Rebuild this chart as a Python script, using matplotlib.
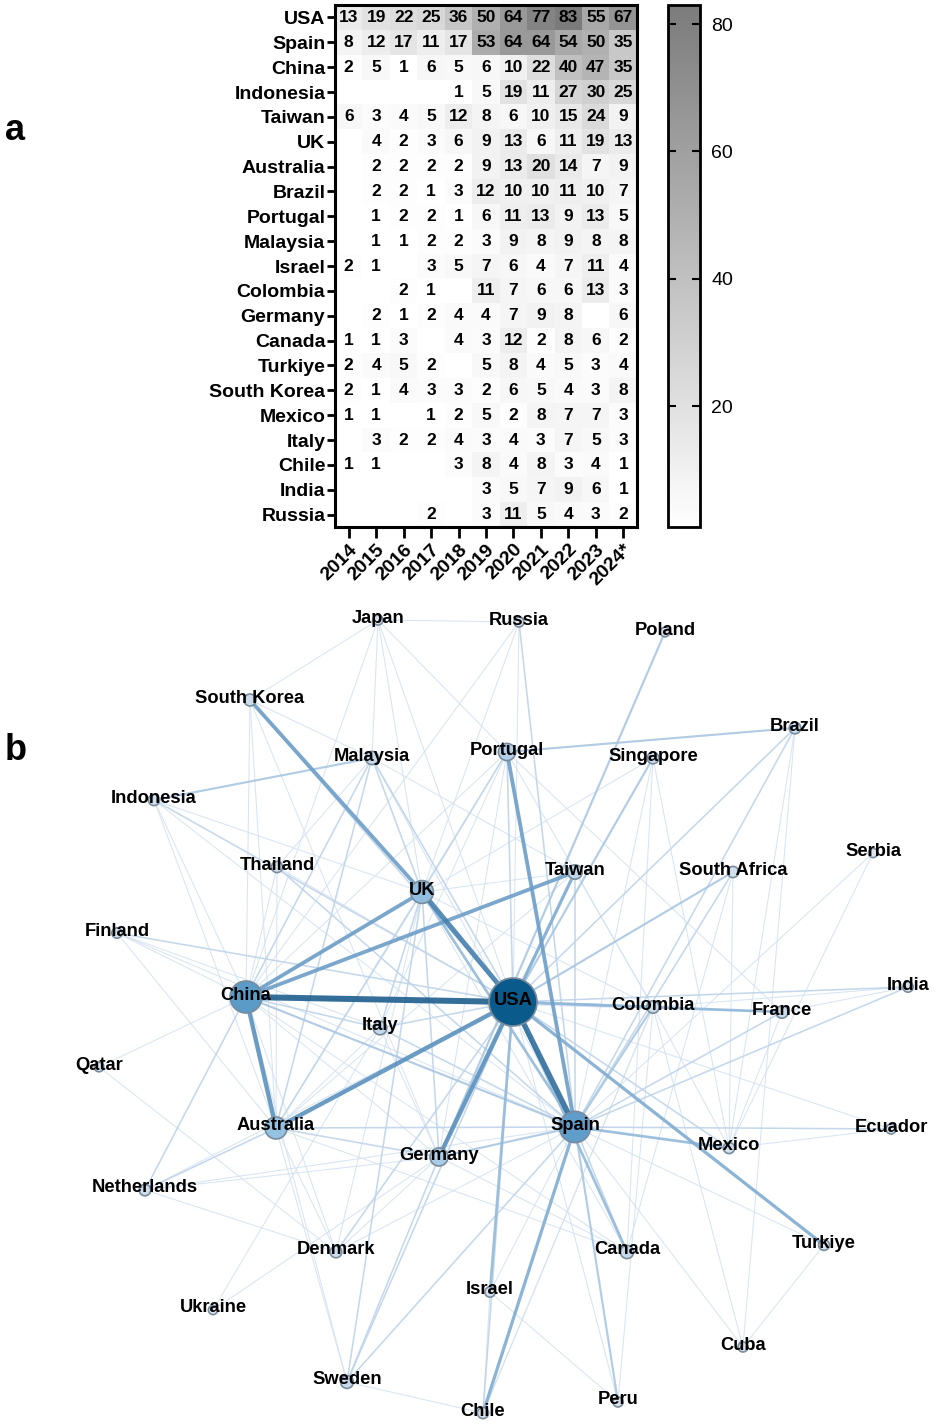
import numpy as np
import matplotlib.pyplot as plt
from matplotlib.colors import LinearSegmentedColormap

plt.rcParams['font.family'] = ['Liberation Sans', 'DejaVu Sans']

# ---- panel a: publications per country and year ----
countries = ["USA", "Spain", "China", "Indonesia", "Taiwan", "UK", "Australia",
             "Brazil", "Portugal", "Malaysia", "Israel", "Colombia", "Germany",
             "Canada", "Turkiye", "South Korea", "Mexico", "Italy", "Chile",
             "India", "Russia"]
years = ["2014", "2015", "2016", "2017", "2018", "2019", "2020", "2021",
         "2022", "2023", "2024*"]
N = None
counts = [
    [13, 19, 22, 25, 36, 50, 64, 77, 83, 55, 67],
    [8, 12, 17, 11, 17, 53, 64, 64, 54, 50, 35],
    [2, 5, 1, 6, 5, 6, 10, 22, 40, 47, 35],
    [N, N, N, N, 1, 5, 19, 11, 27, 30, 25],
    [6, 3, 4, 5, 12, 8, 6, 10, 15, 24, 9],
    [N, 4, 2, 3, 6, 9, 13, 6, 11, 19, 13],
    [N, 2, 2, 2, 2, 9, 13, 20, 14, 7, 9],
    [N, 2, 2, 1, 3, 12, 10, 10, 11, 10, 7],
    [N, 1, 2, 2, 1, 6, 11, 13, 9, 13, 5],
    [N, 1, 1, 2, 2, 3, 9, 8, 9, 8, 8],
    [2, 1, N, 3, 5, 7, 6, 4, 7, 11, 4],
    [N, N, 2, 1, N, 11, 7, 6, 6, 13, 3],
    [N, 2, 1, 2, 4, 4, 7, 9, 8, N, 6],
    [1, 1, 3, N, 4, 3, 12, 2, 8, 6, 2],
    [2, 4, 5, 2, N, 5, 8, 4, 5, 3, 4],
    [2, 1, 4, 3, 3, 2, 6, 5, 4, 3, 8],
    [1, 1, N, 1, 2, 5, 2, 8, 7, 7, 3],
    [N, 3, 2, 2, 4, 3, 4, 3, 7, 5, 3],
    [1, 1, N, N, 3, 8, 4, 8, 3, 4, 1],
    [N, N, N, N, N, 3, 5, 7, 9, 6, 1],
    [N, N, N, 2, N, 3, 11, 5, 4, 3, 2],
]
cbar_ticks = [20, 40, 60, 80]

# ---- panel b: collaboration network ----
nodes = ["USA", "China", "Spain", "UK", "Australia", "Germany", "Portugal",
         "Taiwan", "Italy", "Malaysia", "Canada", "Sweden", "Colombia",
         "France", "South Korea", "Brazil", "Denmark", "Singapore",
         "Netherlands", "Indonesia", "Thailand", "Finland", "Mexico",
         "South Africa", "Chile", "Israel", "Turkiye", "Japan", "Russia",
         "Poland", "Qatar", "Ukraine", "Serbia", "India", "Ecuador", "Cuba",
         "Peru"]
# layout coordinates (x, y) of each node
node_x = [513, 246, 575, 422, 276, 439, 507, 575, 380, 372, 627, 347, 653,
          782, 250, 795, 336, 653, 145, 154, 277, 117, 729, 733, 483, 490,
          824, 378, 519, 665, 99, 213, 873, 908, 891, 743, 618]
node_y = [1002, 997, 1127, 892, 1128, 1157, 752, 872, 1028, 758, 1252, 1382,
          1007, 1012, 700, 728, 1252, 758, 1190, 800, 867, 933, 1148, 872,
          1413, 1292, 1245, 620, 622, 632, 1067, 1310, 853, 987, 1129, 1347,
          1402]
strength = [100, 60, 58, 37, 35, 25, 23, 16, 14, 13, 13, 12, 11, 11, 10, 9,
            9, 9, 9, 8, 8, 6, 8, 8, 8, 6, 7, 5, 5, 4, 4, 3, 3, 6, 5, 5, 5]

edges = [
    ("USA", "China", 10), ("USA", "Spain", 9), ("USA", "UK", 8),
    ("China", "Australia", 7), ("USA", "Australia", 7), ("USA", "Germany", 7),
    ("China", "UK", 6), ("China", "Taiwan", 6), ("Portugal", "Spain", 6),
    ("South Korea", "UK", 6), ("USA", "Taiwan", 5), ("USA", "Turkiye", 5),
    ("Spain", "Chile", 5), ("UK", "Spain", 4), ("USA", "Colombia", 4),
    ("USA", "France", 4), ("Spain", "Mexico", 4), ("USA", "Canada", 4),
    ("USA", "Israel", 4), ("Spain", "Peru", 3), ("Spain", "Germany", 3),
    ("Portugal", "Brazil", 3), ("Indonesia", "Malaysia", 3),
    ("Poland", "Germany", 3), ("Singapore", "USA", 3),
    ("South Africa", "USA", 3), ("Colombia", "Spain", 3), ("China", "Spain", 3),
    ("France", "Spain", 2), ("Brazil", "USA", 2), ("Brazil", "Spain", 2),
    ("India", "USA", 2), ("India", "Spain", 2), ("Ecuador", "Spain", 2),
    ("Canada", "Spain", 2), ("Sweden", "USA", 2), ("Sweden", "Germany", 2),
    ("Sweden", "Spain", 2), ("Sweden", "UK", 2), ("Denmark", "USA", 2),
    ("Netherlands", "China", 2), ("Netherlands", "Australia", 2),
    ("Finland", "USA", 2), ("Italy", "USA", 2), ("Italy", "Spain", 2),
    ("Italy", "China", 2), ("Italy", "UK", 2), ("Russia", "Spain", 2),
    ("Malaysia", "China", 2), ("Malaysia", "Australia", 2),
    ("Malaysia", "UK", 2), ("Malaysia", "USA", 2), ("Indonesia", "USA", 2),
    ("Thailand", "Spain", 2), ("South Korea", "USA", 2),
    ("Taiwan", "Spain", 2), ("Portugal", "USA", 2), ("Portugal", "UK", 2),
    ("UK", "Australia", 2), ("UK", "Germany", 2), ("Germany", "Australia", 2),
    ("Mexico", "USA", 2), ("Chile", "USA", 2), ("France", "USA", 2),
    ("Australia", "Spain", 2), ("South Africa", "Spain", 2),
    ("Singapore", "Spain", 1), ("Singapore", "China", 1),
    ("Singapore", "Mexico", 1), ("Singapore", "Canada", 1),
    ("Serbia", "Spain", 1), ("Serbia", "Mexico", 1), ("Turkiye", "Cuba", 1),
    ("Turkiye", "Spain", 1), ("India", "France", 1), ("India", "Colombia", 1),
    ("Mexico", "Ecuador", 1), ("Cuba", "Spain", 1), ("Cuba", "Colombia", 1),
    ("Canada", "Germany", 1), ("Canada", "Australia", 1),
    ("Canada", "China", 1), ("Sweden", "China", 1), ("Sweden", "Australia", 1),
    ("Sweden", "Chile", 1), ("Denmark", "China", 1),
    ("Denmark", "Netherlands", 1), ("Qatar", "China", 1),
    ("Qatar", "Denmark", 1), ("Ukraine", "Germany", 1),
    ("Ukraine", "Italy", 1), ("Netherlands", "Spain", 1),
    ("Netherlands", "USA", 1), ("Netherlands", "Germany", 1),
    ("Finland", "Spain", 1), ("Finland", "China", 1),
    ("Finland", "Australia", 1), ("Finland", "Italy", 1),
    ("Italy", "Germany", 1), ("Italy", "Australia", 1), ("Japan", "USA", 1),
    ("Japan", "UK", 1), ("Japan", "Malaysia", 1), ("Japan", "South Korea", 1),
    ("Japan", "China", 1), ("Japan", "Russia", 1), ("Japan", "Portugal", 1),
    ("Russia", "USA", 1), ("Russia", "China", 1), ("Russia", "UK", 1),
    ("Malaysia", "Spain", 1), ("Malaysia", "South Korea", 1),
    ("Malaysia", "Thailand", 1), ("Malaysia", "Taiwan", 1),
    ("Indonesia", "China", 1), ("Indonesia", "Australia", 1),
    ("Indonesia", "Spain", 1), ("Indonesia", "UK", 1),
    ("Thailand", "USA", 1), ("Thailand", "China", 1),
    ("Thailand", "Australia", 1), ("South Korea", "China", 1),
    ("South Korea", "Australia", 1), ("South Korea", "Germany", 1),
    ("Taiwan", "UK", 1), ("Taiwan", "Germany", 1), ("Taiwan", "Australia", 1),
    ("Taiwan", "Colombia", 1), ("Portugal", "China", 1),
    ("Portugal", "Australia", 1), ("Portugal", "Germany", 1),
    ("Portugal", "Italy", 1), ("Portugal", "Colombia", 1),
    ("Portugal", "France", 1), ("UK", "Canada", 1), ("UK", "Denmark", 1),
    ("UK", "Colombia", 1), ("Germany", "China", 1), ("Colombia", "Mexico", 1),
    ("Colombia", "Chile", 1), ("France", "China", 1), ("France", "Mexico", 1),
    ("Chile", "Colombia", 1), ("Chile", "Israel", 1), ("Peru", "USA", 1),
    ("Peru", "Colombia", 1), ("Israel", "Spain", 1), ("Israel", "Peru", 1),
    ("Australia", "Denmark", 1), ("Brazil", "Mexico", 1),
    ("Brazil", "Cuba", 1), ("South Africa", "Canada", 1),
    ("South Africa", "Mexico", 1), ("Ecuador", "USA", 1),
    ("Denmark", "Spain", 1), ("Denmark", "Germany", 1),
]

# ---- figure ----
fig = plt.figure(figsize=(9.35, 14.24), dpi=100)
H = 1424.0
W = 935.0

ax = fig.add_axes([335 / W, 1 - 527 / H, 302 / W, 522 / H])
grey = LinearSegmentedColormap.from_list("grey", ["#ffffff", "#7b7b7b"])
grey.set_bad("white")
vals = np.array([[np.nan if v is None else v for v in row] for row in counts],
                dtype=float)
im = ax.imshow(np.ma.masked_invalid(vals), cmap=grey, vmin=1, vmax=83,
               aspect="auto", interpolation="nearest")
for i in range(len(countries)):
    for j in range(len(years)):
        if not np.isnan(vals[i, j]):
            ax.text(j, i, f"{int(vals[i, j])}", ha="center", va="center",
                    fontsize=12.5, fontweight="bold", color="black")
ax.set_yticks(range(len(countries)))
ax.set_yticklabels(countries, fontsize=14, fontweight="bold")
ax.set_xticks(range(len(years)))
ax.set_xticklabels(years, fontsize=14, fontweight="bold", rotation=45,
                   ha="right", rotation_mode="anchor")
ax.tick_params(axis="y", length=6, width=2, pad=1)
ax.tick_params(axis="x", length=8, width=2, pad=2)
for s in ax.spines.values():
    s.set_linewidth(2.2)

cax = fig.add_axes([668 / W, 1 - 527 / H, 32 / W, 522 / H])
cb = fig.colorbar(im, cax=cax, ticks=cbar_ticks)
cb.outline.set_linewidth(2)
cax.tick_params(direction="in", left=True, right=True, length=6, width=1.5,
                labelsize=14, pad=8)

fig.text(5 / W, 1 - 130 / H, "a", fontsize=26, fontweight="bold",
         va="center")
fig.text(5 / W, 1 - 750 / H, "b", fontsize=26, fontweight="bold",
         va="center")

# network
axn = fig.add_axes([0, 0, 1, 834 / H])
axn.set_xlim(0, W)
axn.set_ylim(H, H - 834)
axn.axis("off")

pos = {n: (x, y) for n, x, y in zip(nodes, node_x, node_y)}
edge_cmap = LinearSegmentedColormap.from_list(
    "edge", ["#d4e2f0", "#93b9da", "#5a91be", "#1f5f8e"])
for a, b, w in sorted(edges, key=lambda e: e[2]):
    (x1, y1), (x2, y2) = pos[a], pos[b]
    t = (w - 1) / 9.0
    axn.plot([x1, x2], [y1, y2], color=edge_cmap(t),
             lw=(0.5 + 0.55 * w) * 0.72, alpha=0.9, solid_capstyle="round",
             zorder=1)

node_cmap = LinearSegmentedColormap.from_list(
    "node", [(0, "#e2e7ef"), (0.35, "#95c1e2"), (0.6, "#5a9bc8"),
             (1, "#0b5a8c")])
radius = [4 + 20 * s / 100 for s in strength]
sizes = [(1.44 * r) ** 2 for r in radius]
colors = [node_cmap(s / 100) for s in strength]
axn.scatter(node_x, node_y, s=sizes, c=colors, edgecolors="#7a8c9c",
            linewidths=1.2, zorder=3)
for n, x, y in zip(nodes, node_x, node_y):
    axn.text(x, y - 2, n, ha="center", va="center", fontsize=13.2,
             fontweight="bold", color="black", zorder=4)

fig.savefig("out.png", dpi=100)
